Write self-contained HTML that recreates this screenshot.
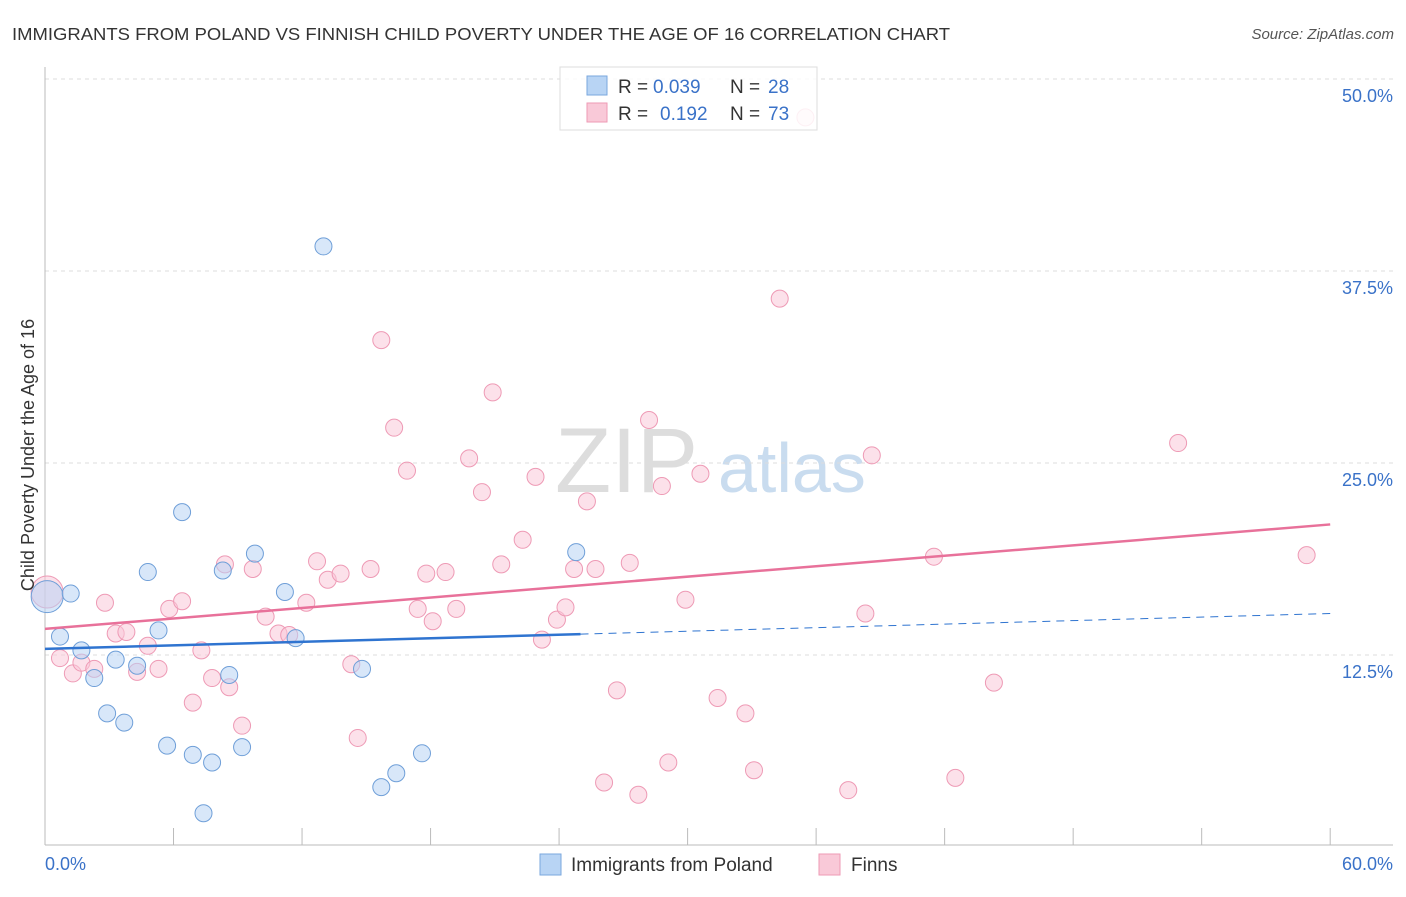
<!DOCTYPE html>
<html><head><meta charset="utf-8"><style>
body{margin:0;background:#fff;font-family:"Liberation Sans",sans-serif;}
svg text{font-family:"Liberation Sans",sans-serif;}
</style></head><body>
<svg id="c" width="1406" height="892" viewBox="0 0 1406 892" xmlns="http://www.w3.org/2000/svg">
<text x="12" y="40" font-size="17.5" fill="#333" textLength="938" lengthAdjust="spacingAndGlyphs">IMMIGRANTS FROM POLAND VS FINNISH CHILD POVERTY UNDER THE AGE OF 16 CORRELATION CHART</text>
<text x="1394" y="39" font-size="15" fill="#555" font-style="italic" text-anchor="end">Source: ZipAtlas.com</text>
<text x="555" y="492" font-size="92" fill="#ddd" font-family="Liberation Serif">ZIP</text>
<text x="718" y="492" font-size="70" fill="#c9dcef">atlas</text>
<g id="grid"></g>
<g id="axes"></g>
<g id="marks"></g>
<text transform="translate(34,455) rotate(-90)" font-size="18" fill="#333" text-anchor="middle">Child Poverty Under the Age of 16</text>
<g>
<rect x="560" y="67" width="257" height="63" fill="#fff" fill-opacity="0.85" stroke="#ddd"/>
<rect x="587" y="76" width="20" height="19" fill="#b8d4f4" stroke="#7aa7de"/>
<rect x="587" y="103" width="20" height="19" fill="#f9c9d8" stroke="#ee9ab5"/>
<text x="618" y="93" font-size="19" fill="#333">R = </text><text x="653" y="93" font-size="19" fill="#3a72c8">0.039</text>
<text x="730" y="93" font-size="19" fill="#333">N = </text><text x="768" y="93" font-size="19" fill="#3a72c8">28</text>
<text x="618" y="120" font-size="19" fill="#333">R = </text><text x="660" y="120" font-size="19" fill="#3a72c8">0.192</text>
<text x="730" y="120" font-size="19" fill="#333">N = </text><text x="768" y="120" font-size="19" fill="#3a72c8">73</text>
</g>
<g>
<rect x="540" y="854" width="21" height="21" fill="#b8d4f4" stroke="#7aa7de"/>
<text x="571" y="871" font-size="19" fill="#333">Immigrants from Poland</text>
<rect x="819" y="854" width="21" height="21" fill="#f9c9d8" stroke="#ee9ab5"/>
<text x="851" y="871" font-size="19" fill="#333">Finns</text>
</g>
</svg>
<script>
const yTicks=[12.5,25,37.5,50];
const yTickLabels=["12.5%","25.0%","37.5%","50.0%"];
const xTickLabels=["0.0%","60.0%"];
const polandX=[0.1,1.2,0.7,1.7,2.3,3.3,2.9,3.7,4.3,4.8,5.3,6.4,5.7,6.9,7.8,7.4,8.3,8.6,9.2,9.8,11.2,11.7,13.0,14.8,15.7,16.4,17.6,24.8];
const polandY=[16.3,16.5,13.7,12.8,11.0,12.2,8.7,8.1,11.8,17.9,14.1,21.8,6.6,6.0,5.5,2.2,18.0,11.2,6.5,19.1,16.6,13.6,39.1,11.6,3.9,4.8,6.1,19.2];
const finnsX=[0.1,0.7,1.3,1.7,2.3,2.8,3.3,3.8,4.3,4.8,5.3,5.8,6.4,6.9,7.3,7.8,8.4,8.6,9.2,9.7,10.3,10.9,11.4,12.2,12.7,13.2,13.8,14.3,14.6,15.2,15.7,16.3,16.9,17.4,18.1,18.7,17.8,19.2,19.8,20.4,20.9,21.3,22.3,22.9,23.2,23.9,24.3,24.7,25.3,25.7,26.1,26.7,27.3,27.7,28.2,28.8,29.1,29.9,30.6,31.4,32.7,33.1,34.3,35.5,37.5,38.3,38.6,41.5,42.5,44.3,52.9,58.9];
const finnsY=[16.6,12.3,11.3,12.0,11.6,15.9,13.9,14.0,11.4,13.1,11.6,15.5,16.0,9.4,12.8,11.0,18.4,10.4,7.9,18.1,15.0,13.9,13.8,15.9,18.6,17.4,17.8,11.9,7.1,18.1,33.0,27.3,24.5,15.5,14.7,17.9,17.8,15.5,25.3,23.1,29.6,18.4,20.0,24.1,13.5,14.8,15.6,18.1,22.5,18.1,4.2,10.2,18.5,3.4,27.8,23.5,5.5,16.1,24.3,9.7,8.7,5.0,35.7,47.5,3.7,15.2,25.5,18.9,4.5,10.7,26.3,19.0];
const polandTrend=[12.9,15.2], finnsTrend=[14.2,21.0];
const X=v=>45+v*21.42, Y=v=>847-v*15.36;
const NS="http://www.w3.org/2000/svg";
function mk(p,t,a){const e=document.createElementNS(NS,t);for(const k in a)e.setAttribute(k,a[k]);document.getElementById(p).appendChild(e);return e;}
yTicks.forEach((t,i)=>{
 const l=mk('grid','line',{x1:45,x2:1393,y1:Y(t),y2:Y(t),stroke:'#ddd','stroke-dasharray':'4,4'});
 
 
 const tx=mk('grid','text',{x:1393,y:Y(t)+23,'font-size':18,fill:'#3a72c8','text-anchor':'end'});tx.textContent=yTickLabels[i];
 
 
});
const ax=mk('axes','line',{x1:45,x2:1393,y1:845,y2:845,stroke:'#bbb'});


const ay=mk('axes','line',{x1:45,x2:45,y1:67,y2:845,stroke:'#bbb'});


for(let i=0;i<=10;i++){const t=mk('axes','line',{x1:X(i*6),x2:X(i*6),y1:828,y2:845,stroke:'#bbb'});
 
 }
[[0,'start',45],[60,'end',1393]].forEach((d,i)=>{const t=mk('axes','text',{x:d[2],y:870,'font-size':18,fill:'#3a72c8','text-anchor':d[1]});t.textContent=xTickLabels[i];
 
 });
function pts(xs,ys,fill,stroke,name){xs.forEach((x,i)=>{const r=i==0?16:8.5;
 const c=mk('marks','circle',{cx:X(x),cy:Y(ys[i]),r:r,fill:fill,'fill-opacity':0.55,stroke:stroke,'stroke-width':1});
 
 });}
pts(finnsX,finnsY,'#f9c9d8','#ee9ab5','finns-point');
pts(polandX,polandY,'#b8d4f4','#6f9fd8','poland-point');
const ft=mk('marks','line',{x1:X(0),y1:Y(finnsTrend[0]),x2:X(60),y2:Y(finnsTrend[1]),stroke:'#e8719a','stroke-width':2.5});


const pe=25, pmid=polandTrend[0]+(polandTrend[1]-polandTrend[0])*pe/60;
const pt=mk('marks','line',{x1:X(0),y1:Y(polandTrend[0]),x2:X(pe),y2:Y(pmid),stroke:'#2f74d0','stroke-width':2.5});


const pd=mk('marks','line',{x1:X(pe),y1:Y(pmid),x2:X(60),y2:Y(polandTrend[1]),stroke:'#2f74d0','stroke-width':1,'stroke-dasharray':'8,6'});


</script>
</body></html>
